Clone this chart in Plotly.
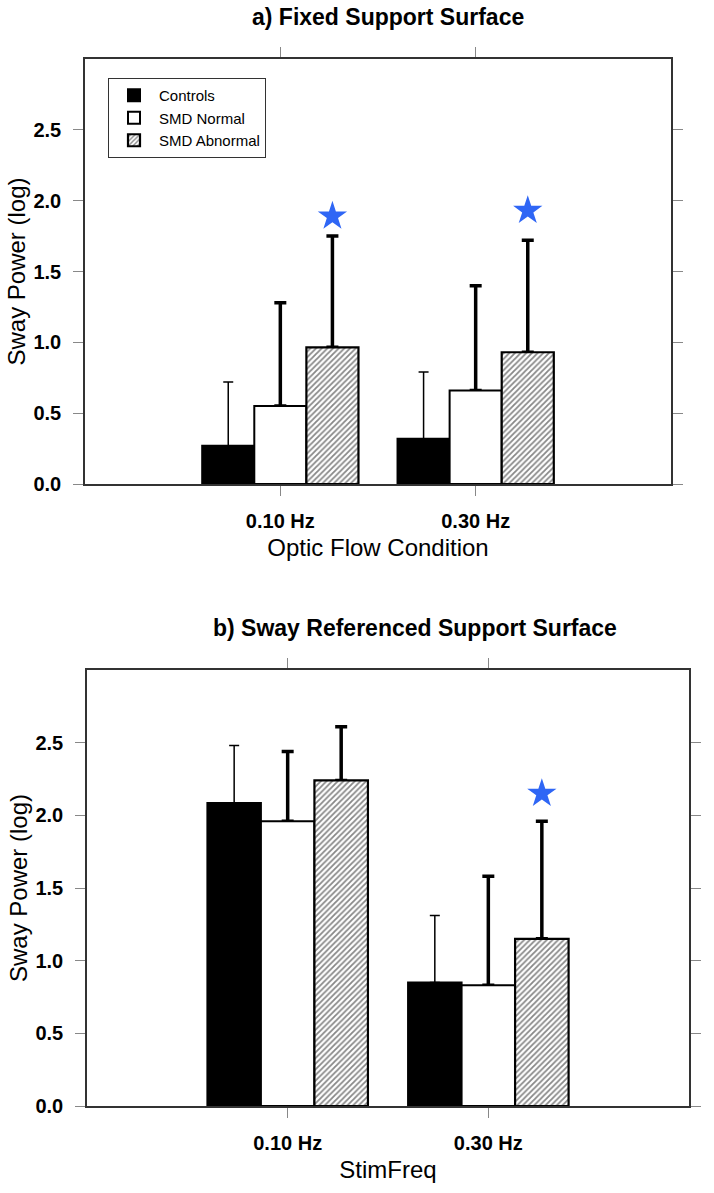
import plotly.graph_objects as go

# ---- data ----
categories = ["0.10 Hz", "0.30 Hz"]
cat_pos = [1, 2]
series_names = ["Controls", "SMD Normal", "SMD Abnormal"]

# Panel a) Fixed support surface
ctrl_a = [0.27, 0.32]
ctrl_a_sd = [0.45, 0.47]
norm_a = [0.55, 0.66]
norm_a_sd = [0.73, 0.74]
abn_a = [0.965, 0.93]
abn_a_sd = [0.785, 0.79]
star_a = [1.89, 1.93]

# Panel b) Sway referenced support surface
ctrl_b = [2.085, 0.85]
ctrl_b_sd = [0.395, 0.46]
norm_b = [1.96, 0.83]
norm_b_sd = [0.48, 0.75]
abn_b = [2.24, 1.15]
abn_b_sd = [0.37, 0.81]
star_b = [None, 2.15]

y_ticks = [0.0, 0.5, 1.0, 1.5, 2.0, 2.5]

FONT = "Liberation Sans, Arial, sans-serif"
W, H = 714, 1193

fig = go.Figure()

bar_w = 0.8 / 3


def add_panel(xa, ya, vals, sds, stars, showlegend):
    styles = [
        dict(color="black", line=dict(color="black", width=2)),
        dict(color="white", line=dict(color="black", width=2)),
        dict(color="white", line=dict(color="black", width=2.2),
             pattern=dict(shape="/", fgcolor="#111", bgcolor="white", size=4, solidity=0.45)),
    ]
    errstyle = [dict(thickness=1.5, width=5), dict(thickness=3.5, width=6), dict(thickness=3.5, width=6)]
    # error-bar carriers drawn first (hidden bars), so the real bars cover the lower caps
    for i, (v, sd) in enumerate(zip(vals, sds)):
        fig.add_trace(go.Bar(
            x=cat_pos, y=v, xaxis=xa, yaxis=ya, offsetgroup=str(i), showlegend=False,
            marker=dict(color="rgba(0,0,0,0)", line=dict(width=0)), hoverinfo="skip",
            error_y=dict(type="data", symmetric=False, array=sd, arrayminus=[0, 0],
                         color="black", visible=True, **errstyle[i]),
        ))
    for i, (name, v) in enumerate(zip(series_names, vals)):
        fig.add_trace(go.Bar(
            x=cat_pos, y=v, name=name, marker=styles[i], xaxis=xa, yaxis=ya,
            offsetgroup=str(i), showlegend=showlegend,
        ))
    fig.add_trace(go.Scatter(
        x=[c + bar_w for c in cat_pos], y=stars, mode="markers", xaxis=xa, yaxis=ya,
        marker=dict(symbol="star", size=22, color="#2f66f5", line=dict(width=0)),
        showlegend=False, hoverinfo="skip",
    ))


add_panel("x", "y", [ctrl_a, norm_a, abn_a], [ctrl_a_sd, norm_a_sd, abn_a_sd], star_a, True)
add_panel("x2", "y2", [ctrl_b, norm_b, abn_b], [ctrl_b_sd, norm_b_sd, abn_b_sd], star_b, False)

axis_common = dict(showline=True, linecolor="#333", linewidth=1.5, mirror="allticks",
                   ticks="outside", ticklen=10, tickwidth=1, tickcolor="#888",
                   showgrid=False, zeroline=False, automargin=False)
tfont = dict(family=FONT, size=20, color="black", weight="bold")
titlefont = dict(family=FONT, size=24, color="black")

fig.update_layout(
    width=W, height=H,
    margin=dict(l=0, r=0, t=0, b=0),
    paper_bgcolor="white", plot_bgcolor="white",
    barmode="group", bargap=0.2, bargroupgap=0,
    font=dict(family=FONT, color="black"),
    xaxis=dict(domain=[85 / W, 671 / W], anchor="y", range=[0, 3],
               tickvals=cat_pos, ticktext=categories, tickfont=tfont,
               ticklabelstandoff=8,
               title=dict(text="Optic Flow Condition", font=titlefont, standoff=8),
               **axis_common),
    yaxis=dict(domain=[1 - 484 / H, 1 - 59 / H], anchor="x", range=[0, 3],
               tickvals=y_ticks, tickformat=".1f", tickfont=tfont,
               ticklabelstandoff=8,
               title=dict(text="Sway Power (log)", font=titlefont, standoff=1),
               **axis_common),
    xaxis2=dict(domain=[87 / W, 689 / W], anchor="y2", range=[0, 3],
                tickvals=cat_pos, ticktext=categories, tickfont=tfont,
                ticklabelstandoff=8,
                title=dict(text="StimFreq", font=titlefont, standoff=8),
                **axis_common),
    yaxis2=dict(domain=[1 - 1106 / H, 1 - 670 / H], anchor="x2", range=[0, 3],
                tickvals=y_ticks, tickformat=".1f", tickfont=tfont,
                ticklabelstandoff=8,
                title=dict(text="Sway Power (log)", font=titlefont, standoff=1),
                **axis_common),
    legend=dict(x=108 / W, y=1 - 78 / H, xanchor="left", yanchor="top",
                bordercolor="#333", borderwidth=1, bgcolor="white",
                font=dict(family=FONT, size=15, color="black"),
                tracegroupgap=0, itemwidth=40),
    annotations=[
        dict(text="<b>a) Fixed Support Surface</b>", x=388 / W, y=1 - 17 / H,
             xref="paper", yref="paper", showarrow=False,
             xanchor="center", yanchor="middle",
             font=dict(family=FONT, size=23, color="black")),
        dict(text="<b>b) Sway Referenced Support Surface</b>", x=415 / W, y=1 - 628 / H,
             xref="paper", yref="paper", showarrow=False,
             xanchor="center", yanchor="middle",
             font=dict(family=FONT, size=23, color="black")),
    ],
)

fig.write_html("out.html", config={"displayModeBar": False},
               post_script="document.body.style.margin='0';")
